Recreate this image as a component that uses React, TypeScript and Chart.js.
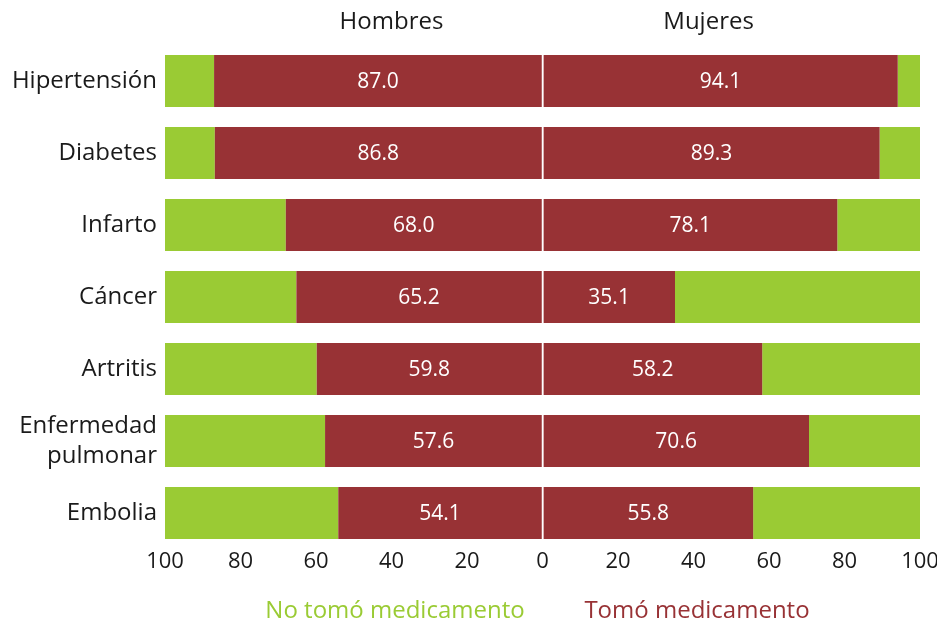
import React, { useEffect, useRef } from "react";
import { Chart, registerables } from "chart.js";

Chart.register(...registerables);

const categories: (string | string[])[] = [
  "Hipertensión",
  "Diabetes",
  "Infarto",
  "Cáncer",
  "Artritis",
  ["Enfermedad", "pulmonar"],
  "Embolia",
];

const menTook = [87.0, 86.8, 68.0, 65.2, 59.8, 57.6, 54.1];
const menNotTook = [13.0, 13.2, 32.0, 34.8, 40.2, 42.4, 45.9];
const womenTook = [94.1, 89.3, 78.1, 35.1, 58.2, 70.6, 55.8];
const womenNotTook = [5.9, 10.7, 21.9, 64.9, 41.8, 29.4, 44.2];

const panelTitles = ["Hombres", "Mujeres"];
const legendLabels = ["No tomó medicamento", "Tomó medicamento"];

const GREEN = "#9acb34";
const RED = "#983235";
const FONT = "'Open Sans', sans-serif";

export default function App() {
  const ref = useRef<HTMLCanvasElement | null>(null);

  useEffect(() => {
    if (!ref.current) return;

    const overlay = {
      id: "overlay",
      afterDatasetsDraw(chart: any) {
        const ctx = chart.ctx;
        ctx.save();
        ctx.fillStyle = "#ffffff";
        ctx.font = `21px ${FONT}`;
        ctx.textAlign = "center";
        ctx.textBaseline = "middle";
        [0, 2].forEach((di) => {
          const meta = chart.getDatasetMeta(di);
          const vals = di === 0 ? menTook : womenTook;
          meta.data.forEach((el: any, i: number) => {
            const cx = (el.x + el.base) / 2;
            ctx.fillText(vals[i].toFixed(1), cx, el.y + 1);
          });
        });
        ctx.restore();
      },
      afterDraw(chart: any) {
        const ctx = chart.ctx;
        const xs = chart.scales.x;
        ctx.save();
        ctx.font = `24px ${FONT}`;
        ctx.textAlign = "center";
        ctx.textBaseline = "middle";
        ctx.fillStyle = "#1a1a1a";
        ctx.fillText(panelTitles[0], xs.getPixelForValue(-40), 22);
        ctx.fillText(panelTitles[1], xs.getPixelForValue(44), 22);
        ctx.fillStyle = GREEN;
        ctx.fillText(legendLabels[0], 395, 611);
        ctx.fillStyle = RED;
        ctx.fillText(legendLabels[1], 697, 611);
        ctx.restore();
      },
    };

    const chart = new Chart(ref.current, {
      type: "bar",
      data: {
        labels: categories as any,
        datasets: [
          {
            label: legendLabels[1] + " H",
            data: menTook.map((v) => -v),
            backgroundColor: RED,
            stack: "s",
          },
          {
            label: legendLabels[0] + " H",
            data: menNotTook.map((v) => -v),
            backgroundColor: GREEN,
            stack: "s",
          },
          {
            label: legendLabels[1] + " M",
            data: womenTook,
            backgroundColor: RED,
            stack: "s",
          },
          {
            label: legendLabels[0] + " M",
            data: womenNotTook,
            backgroundColor: GREEN,
            stack: "s",
          },
        ],
      },
      options: {
        indexAxis: "y",
        animation: false,
        responsive: true,
        maintainAspectRatio: false,
        layout: { padding: { top: 45, right: 17, bottom: 40, left: 0 } },
        datasets: {
          bar: { barPercentage: 0.72, categoryPercentage: 1, borderWidth: 0 },
        },
        plugins: {
          legend: { display: false },
          tooltip: { enabled: false },
          title: { display: false },
        },
        scales: {
          x: {
            type: "linear",
            stacked: true,
            min: -100,
            max: 100,
            border: { display: false },
            grid: {
              drawTicks: false,
              z: 1,
              lineWidth: 1.5,
              color: (c: any) => (c.tick && c.tick.value === 0 ? "#ffffff" : "rgba(0,0,0,0)"),
            },
            ticks: {
              stepSize: 20,
              autoSkip: false,
              maxRotation: 0,
              padding: 0,
              color: "#1a1a1a",
              font: { family: FONT, size: 22 },
              callback: (v: any) => String(Math.abs(Number(v))),
            },
            afterFit: (s: any) => {
              s.height = 34;
              s.paddingLeft = 0;
              s.paddingRight = 0;
            },
          },
          y: {
            type: "category",
            stacked: true,
            border: { display: false },
            grid: { display: false, drawTicks: false },
            ticks: {
              padding: 8,
              color: "#1a1a1a",
              font: { family: FONT, size: 24, lineHeight: 1.25 },
            },
            afterFit: (s: any) => {
              s.width = 165;
            },
          },
        },
      },
      plugins: [overlay],
    } as any);

    return () => chart.destroy();
  }, []);

  return (
    <div style={{ position: "fixed", left: 0, top: 0, width: 937, height: 623, background: "#fff" }}>
      <canvas ref={ref} />
    </div>
  );
}
